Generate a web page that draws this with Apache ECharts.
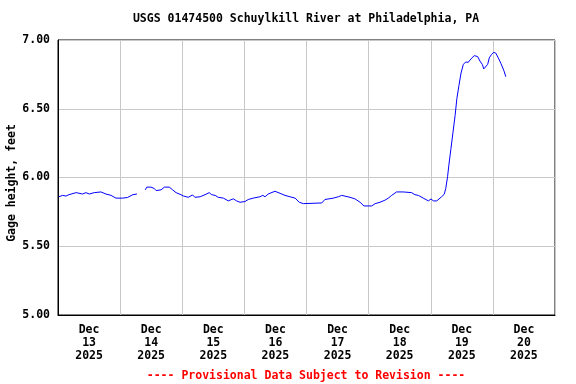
<!DOCTYPE html>
<html><head><meta charset="utf-8">
<script src="https://cdn.jsdelivr.net/npm/echarts@6/dist/echarts.min.js"></script>
<style>html,body{margin:0;padding:0;background:#fff}#c{width:576px;height:384px}</style>
</head><body><div id="c"></div>
<script>
const chartTitle = 'USGS 01474500 Schuylkill River at Philadelphia, PA';
const yName = 'Gage height, feet';
const footer = '---- Provisional Data Subject to Revision ----';
const dayLabels = ['Dec\n13\n2025','Dec\n14\n2025','Dec\n15\n2025','Dec\n16\n2025','Dec\n17\n2025','Dec\n18\n2025','Dec\n19\n2025','Dec\n20\n2025'];
// hours since 2025-12-13 00:00
const hours = [0.3,1.8,3.1,4.2,7.0,9.5,10.8,12.1,14.0,16.6,18.5,20.5,22.4,25.0,26.9,28.9,30.5,
  32.0,
  33.7,34.3,35.9,37.2,37.9,39.8,41.1,43.0,44.3,45.6,47.5,48.4,50.3,52.0,52.9,54.9,56.8,58.4,59.4,
  60.7,61.9,63.9,65.8,66.4,67.7,69.0,70.3,72.2,73.5,75.4,78.0,79.1,80.0,81.2,83.8,85.8,87.7,89.6,
  91.6,93.2,94.8,101.9,103.1,106.4,108.3,109.6,110.2,112.8,114.7,116.7,118.2,121.2,122.5,124.4,
  126.3,127.6,128.9,130.8,133.4,136.6,137.9,139.2,141.1,141.8,143.1,144.1,145.0,146.3,148.2,149.2,
  149.8,150.5,151.0,151.8,152.6,153.4,154.1,154.9,155.7,156.6,157.5,158.5,159.5,160.8,162.1,163.0,
  163.9,164.5,165.2,166.0,166.6,167.5,168.3,169.1,170.1,171.1,172.2,173.0];
const gage = [5.86,5.87,5.865,5.875,5.89,5.88,5.89,5.88,5.89,5.895,5.88,5.87,5.85,5.85,5.855,5.875,5.88,
  null,
  5.91,5.93,5.93,5.92,5.905,5.91,5.93,5.93,5.91,5.89,5.875,5.866,5.856,5.873,5.856,5.86,5.875,5.89,5.875,
  5.87,5.856,5.85,5.83,5.84,5.845,5.83,5.82,5.825,5.84,5.85,5.86,5.87,5.86,5.88,5.90,5.885,5.87,5.86,
  5.85,5.82,5.81,5.815,5.84,5.85,5.86,5.87,5.856,5.856,5.845,5.82,5.793,5.793,5.81,5.82,
  5.835,5.85,5.87,5.895,5.895,5.89,5.875,5.87,5.85,5.844,5.83,5.844,5.83,5.83,5.86,5.878,
  5.92,6.006,6.09,6.21,6.33,6.45,6.576,6.67,6.76,6.823,6.84,6.838,6.862,6.886,6.88,6.847,
  6.823,6.79,6.80,6.823,6.87,6.896,6.91,6.905,6.87,6.83,6.78,6.733];

const font = '"DejaVu Sans Mono", monospace';
const data = hours.map((h, i) => [h, gage[i] === null ? '-' : gage[i]]);
const chart = echarts.init(document.getElementById('c'));
chart.setOption({
  animation: false,
  backgroundColor: '#fff',
  grid: { left: 58, right: 21, top: 40, bottom: 69, show: true, borderColor: '#000', borderWidth: 1, containLabel: false, outerBoundsMode: 'none' },
  graphic: [
    { type: 'text', x: 306, y: 19, style: { text: chartTitle, font: 'bold 11.5px ' + font, fill: '#000', textAlign: 'center', textVerticalAlign: 'middle' } },
    { type: 'text', x: 12, y: 183, rotation: Math.PI / 2, style: { text: yName, font: 'bold 11.5px ' + font, fill: '#000', textAlign: 'center', textVerticalAlign: 'middle' } },
    { type: 'text', x: 306, y: 376, style: { text: footer, font: 'bold 11.5px ' + font, fill: '#ff0000', textAlign: 'center', textVerticalAlign: 'middle' } }
  ],
  xAxis: [
    { type: 'value', min: 0, max: 192, interval: 24, position: 'bottom',
      axisLine: { show: true, lineStyle: { color: '#000', width: 1 } },
      axisTick: { show: false }, axisLabel: { show: false },
      splitLine: { show: true, lineStyle: { color: '#c8c8c8', width: 1 } } },
    { type: 'value', min: 0, max: 192, interval: 12, position: 'bottom',
      axisLine: { show: false }, axisTick: { show: false }, splitLine: { show: false },
      axisLabel: { show: true, margin: 9, color: '#000', fontFamily: font, fontWeight: 'bold', fontSize: 11.5, lineHeight: 13,
        formatter: v => (v % 24 === 12) ? dayLabels[(v - 12) / 24] : '' } }
  ],
  yAxis: { type: 'value', min: 5, max: 7, interval: 0.5,
    axisLine: { show: true, lineStyle: { color: '#000', width: 1 } },
    axisTick: { show: false },
    axisLabel: { margin: 8, color: '#000', fontFamily: font, fontWeight: 'bold', fontSize: 11.5, formatter: v => v.toFixed(2) },
    splitLine: { show: true, lineStyle: { color: '#c8c8c8', width: 1 } } },
  series: [{ type: 'line', xAxisIndex: 0, data: data, showSymbol: false, connectNulls: false,
    lineStyle: { color: '#0000ff', width: 1 }, itemStyle: { color: '#0000ff' } }]
});
</script></body></html>
